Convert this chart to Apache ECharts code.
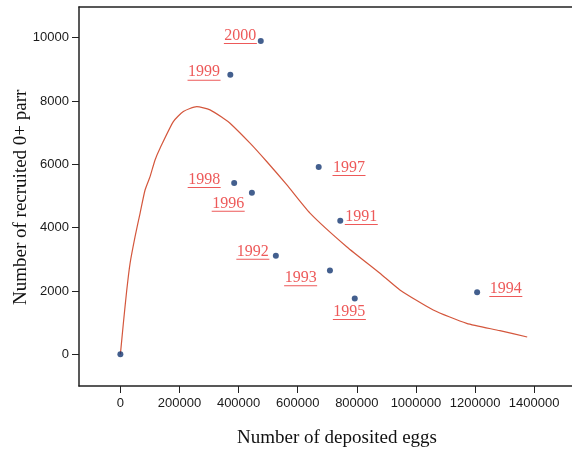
<!DOCTYPE html>
<html>
<head>
<meta charset="utf-8">
<script src="https://cdn.jsdelivr.net/npm/echarts@6/dist/echarts.min.js"></script>
<style>
html,body{margin:0;padding:0;background:#fff;}
#c{width:572px;height:451px;}
</style>
</head>
<body>
<div id="c"></div>
<script>
// ---- data ----
const years = ['', '1991', '1992', '1993', '1994', '1995', '1996', '1997', '1998', '1999', '2000'];
const eggs  = [0, 744000, 526000, 709000, 1207000, 793000, 445000, 671000, 385000, 372000, 475000];
const parr  = [0, 4220, 3110, 2650, 1960, 1760, 5100, 5920, 5410, 8830, 9900];

const curveEggs = [0, 10100, 21600, 32800, 49700, 66600, 83500, 100400, 117300, 134200, 179200, 213000, 258400, 303300, 348300, 371000, 438600, 495000, 562700, 641500, 765600, 878300, 945800, 1058500, 1171500, 1284000, 1376400];
const curveParr = [0, 980, 2030, 2875, 3716, 4455, 5190, 5612, 6140, 6509, 7350, 7666, 7823, 7720, 7458, 7300, 6670, 6090, 5358, 4462, 3400, 2560, 2035, 1402, 980, 747, 547];

const xTicks = [0, 200000, 400000, 600000, 800000, 1000000, 1200000, 1400000];
const yTicks = [0, 2000, 4000, 6000, 8000, 10000];

const xTitle = 'Number of deposited eggs';
const yTitle = 'Number of recruited 0+ parr';

// label placement (pixel offsets of label centre from point)
const labelOffsets = {
  '1991': [21, -4.7], '1992': [-23, -5], '1993': [-29.3, 6.7], '1994': [28.7, -4.3],
  '1995': [-5.4, 12.3], '1996': [-23.7, 10], '1997': [30.3, 0], '1998': [-30, -4],
  '1999': [-26.3, -3], '2000': [-20.4, -6]
};

const RED = '#e8302f';
const scatterData = eggs.map((e, i) => {
  const item = { value: [e, parr[i]], name: years[i] };
  if (years[i]) {
    const off = labelOffsets[years[i]];
    item.label = { show: true, offset: [off[0], off[1] + 1.5] };
  }
  return item;
});
const curveData = curveEggs.map((e, i) => [e, curveParr[i]]);

const chart = echarts.init(document.getElementById('c'), null, { renderer: 'canvas' });
const axisTextColor = '#1a1a1a';
const plain = v => String(v);
chart.setOption({
  backgroundColor: '#ffffff',
  animation: false,
  grid: { left: 79, right: 0, top: 7, bottom: 65 },
  xAxis: [{
    type: 'value', min: -140000, max: 1528000, position: 'bottom',
    splitLine: { show: false },
    axisLine: { show: true, onZero: false, lineStyle: { color: '#222', width: 1.5 } },
    axisTick: { show: true, length: 7, customValues: xTicks, lineStyle: { color: '#222', width: 1 } },
    axisLabel: { customValues: xTicks, formatter: plain, margin: 11, color: axisTextColor, fontFamily: 'Liberation Sans', fontSize: 13 }
  }, {
    type: 'value', min: -140000, max: 1528000, position: 'top',
    splitLine: { show: false },
    axisLine: { show: true, onZero: false, lineStyle: { color: '#222', width: 1.5 } },
    axisTick: { show: false }, axisLabel: { show: false }
  }],
  yAxis: {
    type: 'value', min: -1000, max: 10970,
    splitLine: { show: false },
    axisLine: { show: true, onZero: false, lineStyle: { color: '#222', width: 1.5 } },
    axisTick: { show: true, length: 7, customValues: yTicks, lineStyle: { color: '#222', width: 1 } },
    axisLabel: { customValues: yTicks, formatter: plain, margin: 10, color: axisTextColor, fontFamily: 'Liberation Sans', fontSize: 13 }
  },
  series: [{
    type: 'line', data: curveData, smooth: 0.2, showSymbol: false, z: 2,
    lineStyle: { color: '#d4573d', width: 1.2 }
  }, {
    type: 'scatter', data: scatterData, symbolSize: 6, z: 3,
    itemStyle: { color: '#143772' },
    label: {
      show: false, position: 'inside', align: 'center', verticalAlign: 'middle',
      formatter: p => '{t|' + p.name + '}\n{u|}',
      rich: {
        t: { fontFamily: 'Liberation Serif', fontSize: 16, color: RED, lineHeight: 14, align: 'center' },
        u: { width: 33, height: 1, lineHeight: 2, backgroundColor: RED, align: 'center' }
      }
    }
  }],
  graphic: [{
    type: 'text', left: 237, top: 429,
    style: { text: xTitle, font: '19px "Liberation Serif"', fill: '#111' }
  }, {
    type: 'text', rotation: Math.PI / 2, x: 12, y: 305, originX: 0, originY: 0,
    style: { text: yTitle, font: '19px "Liberation Serif"', fill: '#111', textVerticalAlign: 'top' }
  }]
});
</script>
</body>
</html>
